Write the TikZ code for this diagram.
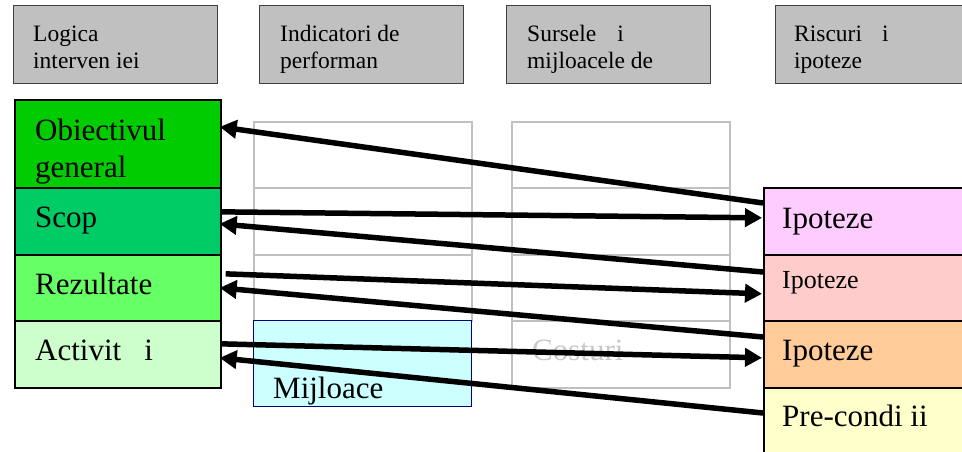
\documentclass[tikz,border=0pt]{standalone}
\usepackage{fontspec}
\setmainfont{Liberation Serif}
\usetikzlibrary{arrows.meta,calc}

\definecolor{hdrfill}{HTML}{C0C0C0}
\definecolor{hdrline}{HTML}{404040}
\definecolor{gridline}{HTML}{C0C0C0}
\definecolor{cobj}{HTML}{00CC00}
\definecolor{cscop}{HTML}{00CC66}
\definecolor{crez}{HTML}{66FF66}
\definecolor{cact}{HTML}{CCFFCC}
\definecolor{cmij}{HTML}{CCFFFF}
\definecolor{cmijline}{HTML}{000080}
\definecolor{cipoa}{HTML}{FFCCFF}
\definecolor{cipob}{HTML}{FFCCCC}
\definecolor{cipoc}{HTML}{FFCC99}
\definecolor{cpre}{HTML}{FFFFCC}
\definecolor{ccost}{HTML}{C8C8C8}

\newcommand{\hdrfont}{\fontsize{23.5}{27}\selectfont}
\newcommand{\bigfont}{\fontsize{31}{37}\selectfont}
\newcommand{\smallfont}{\fontsize{26}{30}\selectfont}
\newcommand{\twolines}[2]{\parbox[t]{200pt}{\raggedright #1\\#2}}

\begin{document}
\begin{tikzpicture}[x=1pt,y=-1pt,
  hdrbox/.style={draw=hdrline,fill=hdrfill,line width=1.4pt,anchor=north west,
    inner sep=0pt,minimum width=204pt,minimum height=78pt},
  rowbox/.style={draw=black,line width=1.7pt,anchor=north west,inner sep=0pt,
    minimum width=206pt},
  cell/.style={draw=gridline,line width=1.6pt,anchor=north west,inner sep=0pt,
    minimum width=218pt},
  txt/.style={anchor=base west,inner sep=0pt},
  arr/.style={line width=5.5pt,-{Triangle[length=17pt,width=18pt]}}]

\useasboundingbox (0,0) rectangle (962,452);
\clip (0,0) rectangle (962,452);

% column headers
\node[hdrbox] (h1) at (13,5) {};
\node[hdrbox] (h2) at (259,5) {};
\node[hdrbox] (h3) at (506,5) {};
\node[hdrbox] (h4) at (775,5) {};
\node[txt,font=\hdrfont] (h1t) at ($(h1.north west)+(20,37)$) {\twolines{Logica}{interven iei}};
\node[txt,font=\hdrfont] (h2t) at ($(h2.north west)+(21,37)$) {\twolines{Indicatori de}{performan}};
\node[txt,font=\hdrfont] (h3t) at ($(h3.north west)+(21,37)$) {\twolines{Sursele\hspace{21pt}i}{mijloacele de}};
\node[txt,font=\hdrfont] (h4t) at ($(h4.north west)+(19,37)$) {\twolines{Riscuri\hspace{20pt}i}{ipoteze}};

% middle grid (indicators and sources)
\node[cell,minimum height=66pt] (a1) at (253,121) {};
\node[cell,minimum height=67pt] (a2) at (253,187) {};
\node[cell,minimum height=66pt] (a3) at (253,254) {};
\node[cell,minimum height=66pt] (b1) at (511,121) {};
\node[cell,minimum height=67pt] (b2) at (511,187) {};
\node[cell,minimum height=66pt] (b3) at (511,254) {};
\node[cell,minimum height=67pt] (b4) at (511,320) {};
\node[txt,font=\bigfont,text=ccost] (cost) at ($(b4.north west)+(21,40)$) {Costuri};

\node[draw=cmijline,fill=cmij,line width=1.4pt,anchor=north west,inner sep=0pt,
  minimum width=218pt,minimum height=86pt] (mij) at (253,320) {};
\node[txt,font=\bigfont] (mijt) at ($(mij.north west)+(20,78)$) {Mijloace};

% intervention logic column
\node[rowbox,fill=cobj,minimum height=88pt] (obj) at (14,99) {};
\node[rowbox,fill=cscop,minimum height=67pt] (scop) at (14,187) {};
\node[rowbox,fill=crez,minimum height=66pt] (rez) at (14,254) {};
\node[rowbox,fill=cact,minimum height=67pt] (act) at (14,320) {};
\node[txt,font=\bigfont] (objt) at ($(obj.north west)+(21,41)$) {\twolines{Obiectivul}{general}};
\node[txt,font=\bigfont] (scopt) at ($(scop.north west)+(21,40)$) {Scop};
\node[txt,font=\bigfont] (rezt) at ($(rez.north west)+(21,40)$) {Rezultate};
\node[txt,font=\bigfont] (actt) at ($(act.north west)+(21,40)$) {Activit\hspace{23pt}i};

% risks and assumptions column
\node[rowbox,fill=cipoa,minimum height=67pt,minimum width=220pt] (ipoA) at (763,187) {};
\node[rowbox,fill=cipob,minimum height=66pt,minimum width=220pt] (ipoB) at (763,254) {};
\node[rowbox,fill=cipoc,minimum height=67pt,minimum width=220pt] (ipoC) at (763,320) {};
\node[rowbox,fill=cpre,minimum height=90pt,minimum width=220pt] (pre) at (763,387) {};
\node[txt,font=\bigfont] (ipoAt) at ($(ipoA.north west)+(19,41)$) {Ipoteze};
\node[txt,font=\smallfont] (ipoBt) at ($(ipoB.north west)+(19,34)$) {Ipoteze};
\node[txt,font=\bigfont] (ipoCt) at ($(ipoC.north west)+(19,40)$) {Ipoteze};
\node[txt,font=\bigfont] (pret) at ($(pre.north west)+(19,39)$) {Pre-condi ii};

% links between levels and assumptions
\draw[arr] ([yshift=-16pt]ipoA.north west) -- ([xshift=-2pt,yshift=17pt]obj.east);
\draw[arr] ([yshift=9.5pt]scop.east) -- ([xshift=-1pt,yshift=3.5pt]ipoA.west);
\draw[arr] ([yshift=-18pt]ipoB.north west) -- ([xshift=-2pt,yshift=-2.5pt]scop.east);
\draw[arr] ([xshift=4pt,yshift=14pt]rez.east) -- ([xshift=-1pt,yshift=-6pt]ipoB.west);
\draw[arr] ([yshift=-17pt]ipoC.north west) -- ([xshift=-2pt]rez.east);
\draw[arr] ([yshift=10.5pt]act.east) -- ([xshift=-1pt,yshift=-3.5pt]ipoC.west);
\draw[arr] ([yshift=-26pt]pre.north west) -- ([xshift=-2pt,yshift=-3.5pt]act.east);

\end{tikzpicture}
\end{document}
